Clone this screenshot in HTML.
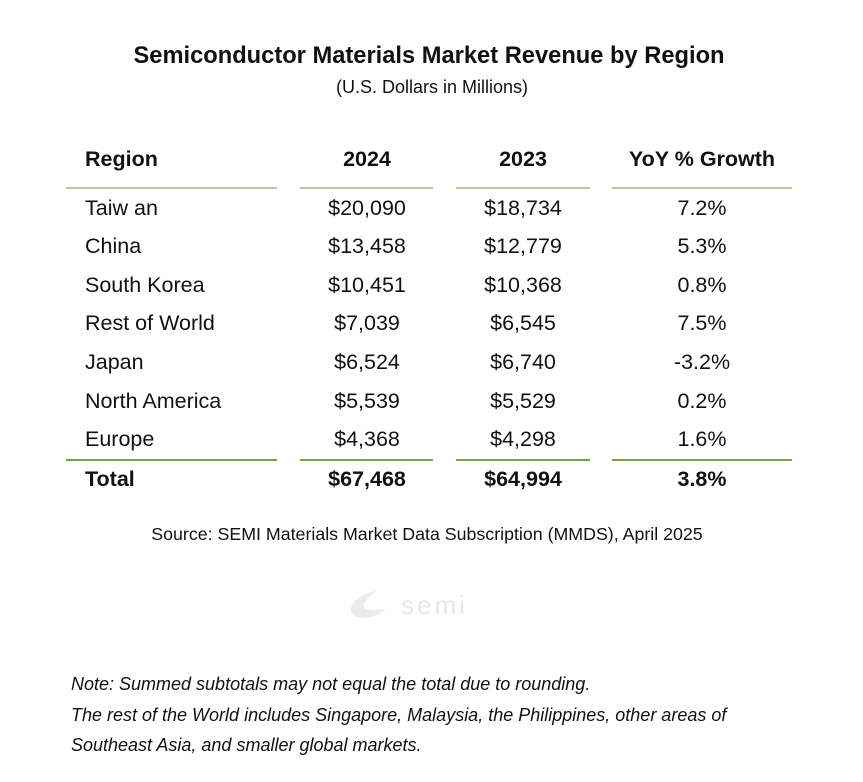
<!DOCTYPE html>
<html><head><meta charset="utf-8"><style>
body{margin:0;width:863px;height:782px;background:#fff;font-family:"Liberation Sans",Arial,sans-serif;color:#111;position:relative;overflow:hidden}
.t{position:absolute;white-space:nowrap;line-height:1}
.c{transform:translateX(-50%)}
.ln{position:absolute;height:2px}
</style></head><body>
<div class="t c" style="left:429px;top:45px;font-size:23.7px;font-weight:bold">Semiconductor Materials Market Revenue by Region</div>
<div class="t c" style="left:432px;top:78px;font-size:18px">(U.S. Dollars in Millions)</div>

<div class="t" style="left:85px;top:149px;font-size:21.5px;font-weight:bold">Region</div>
<div class="t c" style="left:367px;top:149px;font-size:21.5px;font-weight:bold">2024</div>
<div class="t c" style="left:523px;top:149px;font-size:21.5px;font-weight:bold">2023</div>
<div class="t c" style="left:702px;top:149px;font-size:21.5px;font-weight:bold">YoY % Growth</div>

<div class="ln" style="left:66px;width:211px;top:187px;background:#b7c996"></div>
<div class="ln" style="left:300px;width:133px;top:187px;background:#b7c996"></div>
<div class="ln" style="left:456px;width:134px;top:187px;background:#b7c996"></div>
<div class="ln" style="left:612px;width:180px;top:187px;background:#b7c996"></div>

<div style="position:absolute;left:0;top:0;font-size:21.5px">
<div class="t" style="left:85px;top:198px">Taiw an</div><div class="t c" style="left:367px;top:198px">$20,090</div><div class="t c" style="left:523px;top:198px">$18,734</div><div class="t c" style="left:702px;top:198px">7.2%</div>
<div class="t" style="left:85px;top:236px">China</div><div class="t c" style="left:367px;top:236px">$13,458</div><div class="t c" style="left:523px;top:236px">$12,779</div><div class="t c" style="left:702px;top:236px">5.3%</div>
<div class="t" style="left:85px;top:275px">South Korea</div><div class="t c" style="left:367px;top:275px">$10,451</div><div class="t c" style="left:523px;top:275px">$10,368</div><div class="t c" style="left:702px;top:275px">0.8%</div>
<div class="t" style="left:85px;top:313px">Rest of World</div><div class="t c" style="left:367px;top:313px">$7,039</div><div class="t c" style="left:523px;top:313px">$6,545</div><div class="t c" style="left:702px;top:313px">7.5%</div>
<div class="t" style="left:85px;top:352px">Japan</div><div class="t c" style="left:367px;top:352px">$6,524</div><div class="t c" style="left:523px;top:352px">$6,740</div><div class="t c" style="left:702px;top:352px">-3.2%</div>
<div class="t" style="left:85px;top:391px">North America</div><div class="t c" style="left:367px;top:391px">$5,539</div><div class="t c" style="left:523px;top:391px">$5,529</div><div class="t c" style="left:702px;top:391px">0.2%</div>
<div class="t" style="left:85px;top:429px">Europe</div><div class="t c" style="left:367px;top:429px">$4,368</div><div class="t c" style="left:523px;top:429px">$4,298</div><div class="t c" style="left:702px;top:429px">1.6%</div>
</div>

<div class="ln" style="left:66px;width:211px;top:459px;background:#7aa444"></div>
<div class="ln" style="left:300px;width:133px;top:459px;background:#7aa444"></div>
<div class="ln" style="left:456px;width:134px;top:459px;background:#7aa444"></div>
<div class="ln" style="left:612px;width:180px;top:459px;background:#7aa444"></div>

<div style="position:absolute;left:0;top:0;font-size:21.5px;font-weight:bold">
<div class="t" style="left:85px;top:469px">Total</div><div class="t c" style="left:367px;top:469px">$67,468</div><div class="t c" style="left:523px;top:469px">$64,994</div><div class="t c" style="left:702px;top:469px">3.8%</div>
</div>

<div class="t c" style="left:427px;top:526px;font-size:17.8px">Source: SEMI Materials Market Data Subscription (MMDS), April 2025</div>

<svg style="position:absolute;left:345px;top:585px" width="160" height="40">
<path d="M8 30 C0 22 14 8 32 6 C22 12 14 22 22 24 C30 26 36 24 40 24 C34 32 16 36 8 30Z" fill="#ececec"/>
<text x="56" y="29" font-family="Liberation Sans,sans-serif" font-size="26" fill="#e8e8e8" letter-spacing="3">semi</text>
</svg>

<div style="position:absolute;left:71px;top:669px;font-size:18px;font-style:italic;line-height:30.5px;white-space:nowrap">
Note: Summed subtotals may not equal the total due to rounding.<br>
The rest of the World includes Singapore, Malaysia, the Philippines, other areas of<br>
Southeast Asia, and smaller global markets.
</div>
</body></html>
